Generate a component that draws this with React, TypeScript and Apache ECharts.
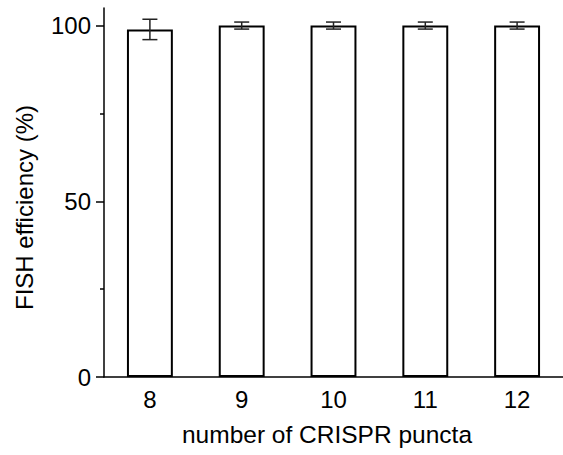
import React, { useEffect, useRef } from "react";
import * as echarts from "echarts";

const categories = ["8", "9", "10", "11", "12"];
const means = [98.9, 100, 100, 100, 100];
const errors = [2.9, 1.0, 1.0, 1.0, 1.0];
const majorTicks = [0, 50, 100];
const minorTicks = [25, 75];

const FONT = "'Liberation Sans', Arial, sans-serif";

export default function App() {
  const ref = useRef<HTMLDivElement>(null);
  useEffect(() => {
    if (!ref.current) return;
    const chart = echarts.init(ref.current, null, { renderer: "svg" });
    const errData = categories.map((_, i) => [i, means[i] - errors[i], means[i] + errors[i]]);
    chart.setOption({
      animation: false,
      backgroundColor: "#ffffff",
      grid: { left: 104, right: -5, top: 8, bottom: 78, containLabel: false },
      xAxis: {
        type: "category",
        data: categories,
        name: "number of CRISPR puncta",
        nameLocation: "middle",
        nameGap: 45,
        nameTextStyle: { fontFamily: FONT, fontSize: 24.5, color: "#000", padding: [0, 13, 0, 0] },
        axisLine: { lineStyle: { color: "#000", width: 1.5 } },
        axisTick: { alignWithLabel: true, length: 8, lineStyle: { color: "#000", width: 1.5 } },
        axisLabel: { fontFamily: FONT, fontSize: 24, color: "#000", margin: 10 },
        splitLine: { show: false },
      },
      yAxis: [
        {
          type: "value",
          min: 0,
          max: 105,
          interval: 25,
          name: "FISH efficiency (%)",
          nameLocation: "middle",
          nameGap: 68,
          nameRotate: 90,
          nameTextStyle: { fontFamily: FONT, fontSize: 24, color: "#000", padding: [0, 30, 0, 0] },
          axisLine: { show: true, lineStyle: { color: "#000", width: 1.5 } },
          axisTick: { show: true, length: 8, customValues: majorTicks, lineStyle: { color: "#000", width: 1.5 } },
          axisLabel: { fontFamily: FONT, fontSize: 24, color: "#000", margin: 13, customValues: majorTicks },
          splitLine: { show: false },
        },
        {
          type: "value",
          min: 0,
          max: 105,
          interval: 25,
          position: "left",
          axisLine: { show: false },
          axisTick: { show: true, length: 4, customValues: minorTicks, lineStyle: { color: "#000", width: 1.5 } },
          axisLabel: { show: false },
          splitLine: { show: false },
        },
      ],
      series: [
        {
          type: "bar",
          data: means,
          yAxisIndex: 0,
          barWidth: "50%",
          itemStyle: { color: "#ffffff", borderColor: "#000", borderWidth: 2 },
        },
        {
          type: "custom",
          yAxisIndex: 0,
          data: errData,
          z: 10,
          renderItem: (params: any, api: any) => {
            const x = api.value(0);
            const lo = api.coord([x, api.value(1)]);
            const hi = api.coord([x, api.value(2)]);
            const hw = 7.5;
            const st = { stroke: "#222", lineWidth: 1.5 };
            return {
              type: "group",
              children: [
                { type: "line", shape: { x1: hi[0], y1: hi[1], x2: lo[0], y2: lo[1] }, style: st },
                { type: "line", shape: { x1: hi[0] - hw, y1: hi[1], x2: hi[0] + hw, y2: hi[1] }, style: st },
                { type: "line", shape: { x1: lo[0] - hw, y1: lo[1], x2: lo[0] + hw, y2: lo[1] }, style: st },
              ],
            };
          },
        },
      ],
    });
    return () => chart.dispose();
  }, []);
  return <div ref={ref} style={{ position: "fixed", left: 0, top: 0, width: 563, height: 455 }} />;
}
